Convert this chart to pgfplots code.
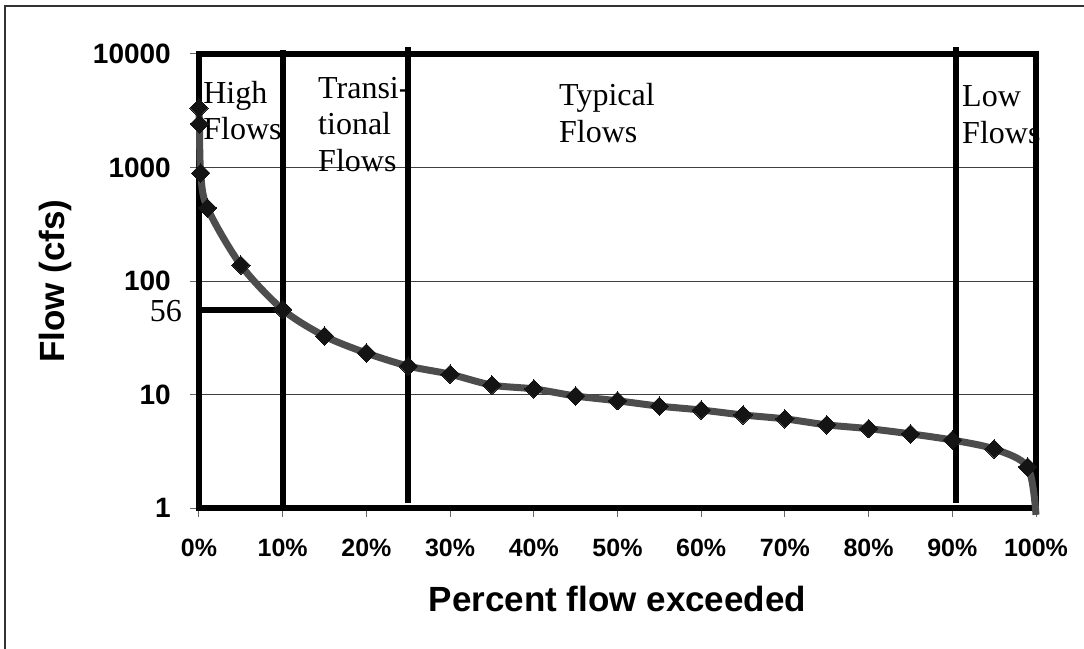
\documentclass[border=0pt]{standalone}
\usepackage{fontspec}
\setmainfont{Liberation Sans}
\newfontfamily\tnr{Liberation Serif}
\usepackage{pgfplots}
\pgfplotsset{compat=1.18}
\usepackage{pgfplotstable}
\definecolor{curvegray}{HTML}{4D4D4D}

% flow duration curve
\pgfplotstableread{
pct flow
0 3340
0.05 2420
0.2 893
1 440
5 138
10 56
15 32.7
20 23.2
25 17.8
30 15.1
35 12.1
40 11.2
45 9.7
50 8.8
55 7.9
60 7.3
65 6.6
70 6.1
75 5.4
80 5.0
85 4.5
90 3.97
95 3.31
99 2.3
100 0.87
}\flowdata

\begin{document}
\begin{tikzpicture}
\useasboundingbox (-199bp,-141bp) rectangle (885bp,508bp);
\draw[black!80, line width=1.5bp] (-194bp,-141bp) -- (-194bp,502bp) -- (885bp,502bp);
\begin{axis}[
    at={(0,0)}, anchor=south west,
    scale only axis, width=837bp, height=454bp,
    ymode=log, xmin=0, xmax=100, ymin=1, ymax=10000,
    clip=false,
    axis line style={line width=5.5bp},
    xtick={0,10,...,100},
    xticklabels={0\%,10\%,20\%,30\%,40\%,50\%,60\%,70\%,80\%,90\%,100\%},
    ytick={1,10,100,1000,10000},
    yticklabels={1,10,100,1000,10000},
    yminorticks=false,
    ymajorgrids,
    major grid style={black!75, line width=1bp},
    tick align=outside, major tick length=9bp,
    tick style={black!60, line width=1bp},
    xtick pos=bottom, ytick pos=left,
    /pgf/number format/assume math mode=true,
    xticklabel style={font=\fontsize{25bp}{30bp}\selectfont\bfseries, anchor=north, inner sep=0pt, yshift=-22bp},
    yticklabel style={font=\fontsize{28bp}{32bp}\selectfont\bfseries, anchor=east, inner sep=0pt, xshift=-19bp},
    xlabel={Percent flow exceeded},
    ylabel={Flow (cfs)},
    every axis x label/.style={at={(axis description cs:0.5,0)}, anchor=base, yshift=-103bp, font=\fontsize{35bp}{40bp}\selectfont\bfseries},
    every axis y label/.style={at={([xshift=-134bp]axis description cs:0,0.5)}, rotate=90, anchor=base, font=\fontsize{35bp}{40bp}\selectfont\bfseries},
]
% flow regime boundaries
\addplot[black, line width=6bp] coordinates {(10,1) (10,10800)};
\addplot[black, line width=6bp] coordinates {(25,1.107) (25,11500)};
\addplot[black, line width=6bp] coordinates {(90.5,1.107) (90.5,11500)};
\addplot[black, line width=6bp] coordinates {(0,56) (10,56)};

% duration curve
\addplot[curvegray, line width=7bp, smooth, tension=0.5,
    mark=square*, mark size=6.5bp, mark indices={1,...,24},
    mark options={rotate=45, fill=black!92, draw=black!92, line width=0bp}]
    table[x=pct, y=flow] {\flowdata};

\begin{scope}[every node/.style={font=\tnr\fontsize{32bp}{36bp}\selectfont, inner sep=0pt}]
\node[anchor=base west] at (rel axis cs:0.005,0.892) {High};
\node[anchor=base west] at (rel axis cs:0.005,0.8106) {Flows};
\node[anchor=base west] at (rel axis cs:0.1422,0.9009) {Transi-};
\node[anchor=base west] at (rel axis cs:0.1422,0.8216) {tional};
\node[anchor=base west] at (rel axis cs:0.1422,0.7401) {Flows};
\node[anchor=base west] at (rel axis cs:0.4301,0.8855) {Typical};
\node[anchor=base west] at (rel axis cs:0.4301,0.8040) {Flows};
\node[anchor=base west] at (rel axis cs:0.9116,0.8833) {Low};
\node[anchor=base west] at (rel axis cs:0.9116,0.8018) {Flows};
\node[anchor=base east] at (rel axis cs:-0.0203,0.4097) {56};
\end{scope}
\end{axis}
\end{tikzpicture}
\end{document}
